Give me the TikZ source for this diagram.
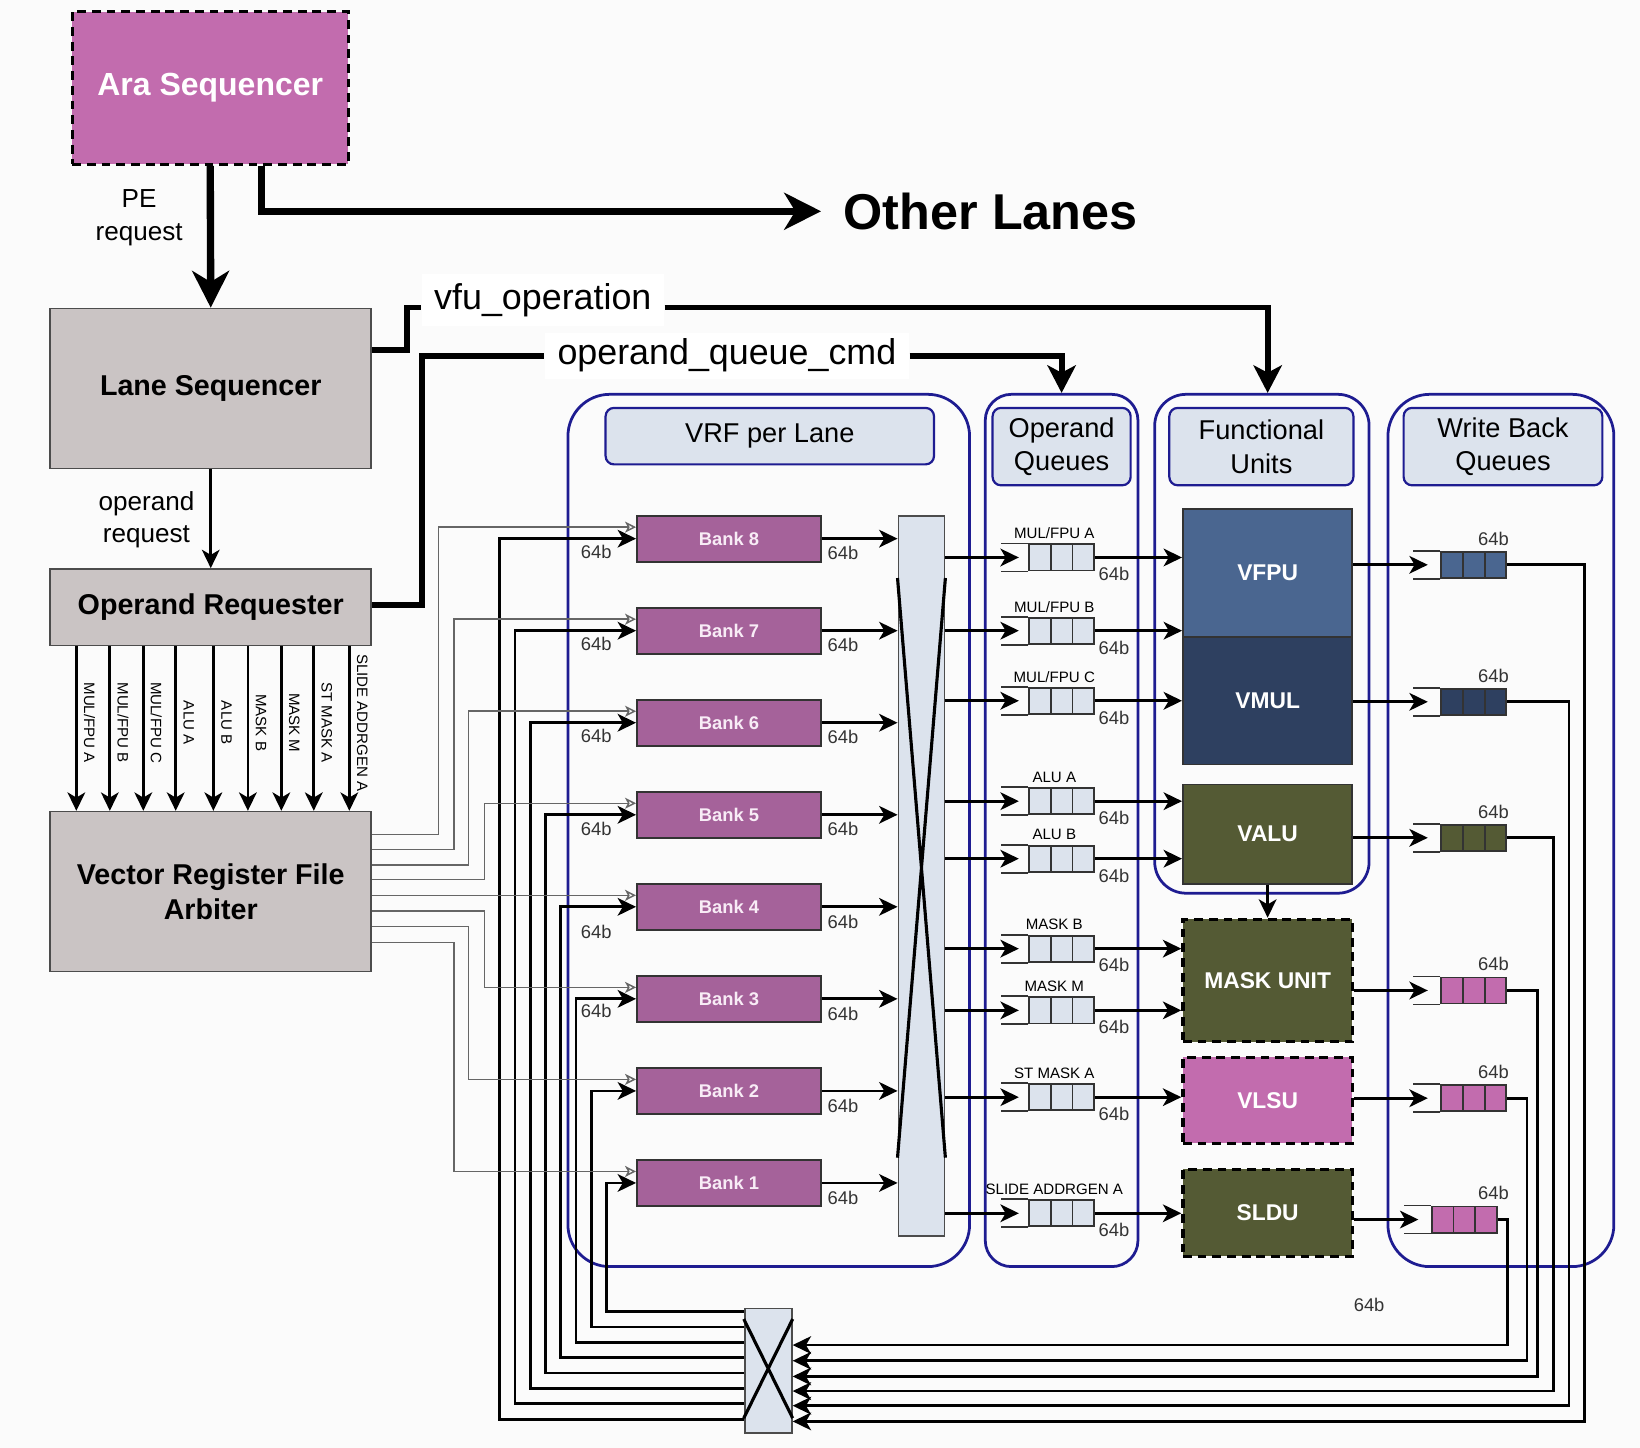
\documentclass[tikz,border=0pt]{standalone}
\usepackage{fontspec}
\setmainfont{Liberation Sans}
\usetikzlibrary{arrows.meta}

\definecolor{arapink}{RGB}{194,108,174}
\definecolor{bankpurple}{RGB}{165,98,154}
\definecolor{bankfg}{RGB}{248,236,246}
\definecolor{boxgrey}{RGB}{202,196,196}
\definecolor{paleblue}{RGB}{220,227,237}
\definecolor{fpublue}{RGB}{74,102,144}
\definecolor{muldark}{RGB}{46,64,96}
\definecolor{aluolive}{RGB}{84,90,52}
\definecolor{framec}{RGB}{30,28,145}
\definecolor{bgc}{RGB}{251,251,251}

\begin{document}
\begin{tikzpicture}
        [x=0.1mm, y=-0.1mm,
         dashbox/.style={draw=black, line width=0.9pt, dash pattern=on 2.4pt off 1.6pt},
         arabox/.style={rectangle, dashbox, fill=arapink, text=white, inner sep=0pt, minimum width=26.4mm, minimum height=14.6mm, font=\fontsize{8.7}{10}\selectfont\bfseries},
         greybox/.style={rectangle, draw=black!70, fill=boxgrey, line width=0.45pt, inner sep=0pt, minimum width=30.7mm, align=center, font=\fontsize{7.8}{9.4}\selectfont\bfseries},
         lbl/.style={align=center, inner sep=0pt, font=\fontsize{7.1}{8.8}\selectfont},
         biglbl/.style={inner sep=0pt, font=\fontsize{13.7}{16}\selectfont\bfseries},
         cmdlbl/.style={fill=white, inner xsep=1.2mm, inner ysep=0pt, minimum height=5mm, font=\fontsize{9.75}{11}\selectfont},
         fatarr/.style={line width=2pt, -{Stealth[length=10pt, width=10pt, inset=3pt]}},
         cmdline/.style={line width=1.6pt},
         cmdarr/.style={cmdline, -{Stealth[length=7.5pt, width=7.7pt, inset=2pt]}},
         arr/.style={line width=0.75pt, -{Stealth[length=5pt, width=4.8pt, inset=1.4pt]}},
         garr/.style={draw=black!60, line width=0.4pt, -{Stealth[open, length=3pt, width=3pt, inset=0.8pt]}},
         lanebox/.style={draw=framec, line width=0.75pt, inner sep=0pt},
         hdr/.style={draw=framec, fill=paleblue, line width=0.6pt, rounded corners=0.8mm, inner sep=0pt, align=center, font=\fontsize{7.4}{9.1}\selectfont},
         bank/.style={draw=black!80, fill=bankpurple, line width=0.5pt, inner sep=0pt, minimum width=17.6mm, minimum height=4.4mm, text=bankfg, font=\fontsize{5}{6}\selectfont\bfseries},
         xbar/.style={draw=black!70, fill=paleblue, line width=0.5pt, inner sep=0pt},
         xcross/.style={line width=0.85pt},
         bits/.style={inner sep=0pt, text=black!80, font=\fontsize{5}{6}\selectfont},
         tinylbl/.style={inner sep=0pt, font=\fontsize{4.1}{5}\selectfont},
         qcell/.style={draw=black!80, fill=paleblue, line width=0.5pt, inner sep=0pt, minimum width=2.07mm, minimum height=2.5mm},
         qline/.style={draw=black!80, line width=0.5pt},
         fu/.style={draw=black!80, line width=0.5pt, inner sep=0pt, minimum width=16.2mm, text=white, font=\fontsize{6.2}{7.5}\selectfont\bfseries}]

        \fill[bgc] (0,0) rectangle (1568,1384);
        \useasboundingbox (0,0) rectangle (1568,1384);

        \node[arabox] (ara) at (201,84) {Ara Sequencer};
        \node[greybox, minimum height=15.3mm] (lane) at (201.5,371.5) {Lane Sequencer};
        \node[greybox, minimum height=7.3mm] (opreq) at (201.5,580.5) {Operand Requester};
        \node[greybox, minimum height=15.3mm] (vrfa) at (201.5,852.5) {Vector Register File\\Arbiter};
        \node[biglbl, anchor=west] (other) at (806,202) {Other Lanes};
        \node[lbl] (pereq) at (133,208) {PE\\request};
        \node[lbl] (opreqlbl) at (140,497) {operand\\request};

        \draw[fatarr] (ara.south) -- (lane.north);
        \draw[fatarr] ([xshift=4.9mm]ara.south) |- ([xshift=-2.1mm]other.west);
        \draw[arr] (lane.south) -- (opreq.north);

        \node[lanebox, rounded corners=4mm, minimum width=38.4mm, minimum height=83.4mm] (vrfbox) at (735,794) {};
        \node[lanebox, rounded corners=2.5mm, minimum width=14.6mm, minimum height=83.4mm] (oqbox) at (1015,794) {};
        \node[lanebox, rounded corners=3mm, minimum width=20.5mm, minimum height=47.7mm] (fubox) at (1206.5,615.5) {};
        \node[lanebox, rounded corners=4mm, minimum width=21.6mm, minimum height=83.4mm] (wbbox) at (1435,794) {};
        \node[hdr, minimum width=31.4mm, minimum height=5.4mm] (vrfhdr) at (736,417) {VRF per Lane};
        \node[hdr, minimum width=13.2mm, minimum height=7.4mm] (oqhdr) at (1015,427) {Operand\\Queues};
        \node[hdr, minimum width=17.6mm, minimum height=7.4mm] (fuhdr) at (1206,427) {Functional\\Units};
        \node[hdr, minimum width=19mm, minimum height=7.4mm] (wbhdr) at (1437,427) {Write Back\\Queues};

        \node[fu, fill=fpublue, minimum height=12.2mm] (vfpu) at (1212,548) {VFPU};
        \node[fu, fill=muldark, minimum height=12.2mm] (vmul) at (1212,670) {VMUL};
        \node[fu, fill=aluolive, minimum height=9.5mm] (valu) at (1212,797.5) {VALU};
        \node[fu, dashbox, fill=aluolive, minimum height=11.7mm] (mask) at (1212,937.5) {MASK UNIT};
        \node[fu, dashbox, fill=arapink, minimum height=8.2mm] (vlsu) at (1212,1052) {VLSU};
        \node[fu, dashbox, fill=aluolive, minimum height=8.3mm] (sldu) at (1212,1159.5) {SLDU};
        \draw[arr] (valu.south) -- (mask.north);

        \node[cmdlbl] (vfu) at (519,287) {vfu\_operation};
        \node[cmdlbl, minimum height=4.4mm] (oqc) at (695,340) {operand\_queue\_cmd};
        \draw[cmdline] ([yshift=3.65mm]lane.east) -- ++(3.3mm,0) |- ([yshift=-0.7mm]vfu.west);
        \draw[cmdarr] ([yshift=-0.7mm]vfu.east) -| (vfpu.north |- fubox.north);
        \draw[cmdline] ([yshift=0.2mm]opreq.east) -- ++(4.8mm,0) |- (oqc.west);
        \draw[cmdarr] (oqc.east) -| (oqbox.north);

        \foreach \x/\lab [count=\k] in {73/{MUL/FPU A}, 105/{MUL/FPU B}, 137/{MUL/FPU C}, 168/ALU A, 204/ALU B, 237/MASK B, 269/MASK M, 300/ST MASK A, 334/SLIDE ADDRGEN A}
        {
          \coordinate (req\k) at (\x,700);
          \draw[arr] (opreq.south -| req\k) -- (vrfa.north -| req\k);
          \node[tinylbl, rotate=-90] (reql\k) at ({\x+12.5},691) {\lab};
        }

        \node[xbar, minimum width=4.4mm, minimum height=68.9mm] (vxbar) at (881,837.5) {};
        \draw[xcross] ([yshift=-6.05mm]vxbar.north west) -- ([yshift=7.6mm]vxbar.south east)
                      ([yshift=-6.05mm]vxbar.north east) -- ([yshift=7.6mm]vxbar.south west);
        \node[xbar, minimum width=4.5mm, minimum height=11.9mm] (bxbar) at (734.5,1310.5) {};
        \draw[xcross] ([yshift=-1.1mm]bxbar.north west) -- ([yshift=1.5mm]bxbar.south east)
                      ([yshift=-1.1mm]bxbar.north east) -- ([yshift=1.5mm]bxbar.south west);

        \foreach \i in {1,...,8}
        {
          \node[bank] (bank\i) at (697,{1131-(\i-1)*88}) {Bank \i};
          \draw[arr] (bank\i.east) -- (vxbar.west |- bank\i.east);
          \node[bits] (bo\i) at (806,{1145-(\i-1)*88}) {64b};
          \coordinate (bin\i) at ({580-(\i-1)*14.6},{1254+(\i-1)*14.7});
          \draw[arr] (bxbar.west |- bin\i) -- (bin\i) |- (bank\i.west);
        }
        \foreach \i/\dy in {8/13, 7/13, 6/13, 5/14, 4/24, 3/12}
          \node[bits] (bi\i) at (570,{1131-(\i-1)*88+\dy}) {64b};

        \foreach \i/\gx/\gy in {8/419/798, 7/434/812, 6/448/827, 5/463/841, 4/463/856, 3/463/871, 2/448/886, 1/434/901}
        {
          \coordinate (gv\i) at (\gx,\gy);
          \draw[garr] (vrfa.east |- gv\i) -- (gv\i) |- ([yshift=1.1mm]bank\i.west);
        }

        \foreach \n/\y/\lab/\fu in {A/533/{MUL/FPU A}/vfpu, B/603/{MUL/FPU B}/vfpu, C/670/{MUL/FPU C}/vmul, D/766/ALU A/valu, E/821/ALU B/valu, F/907/MASK B/mask, G/966/MASK M/mask, H/1049/ST MASK A/vlsu, I/1160/SLIDE ADDRGEN A/sldu}
        {
          \foreach \m in {1,2,3}
            \node[qcell] (oq\n\m) at ({973.65+\m*20.7},\y) {};
          \draw[qline] (oq\n1.north west) -- ++(-2.6mm,0) (oq\n1.south west) -- ++(-2.6mm,0);
          \node[tinylbl] (oql\n) at (1008,{\y-23}) {\lab};
          \node[bits] (oqb\n) at (1065,{\y+16}) {64b};
          \draw[arr] (vxbar.east |- oq\n1.west) -- ([xshift=-0.9mm]oq\n1.west);
          \draw[arr] (oq\n3.east) -- (\fu.west |- oq\n3.east);
        }

        \foreach \n/\y/\col/\fu/\dx/\vx/\ry in {1/540/fpublue/vfpu/0/1515/1359, 2/671/muldark/vmul/0/1500/1344, 3/801/aluolive/valu/0/1485/1330, 4/947/arapink/mask/0/1470/1316, 5/1050/arapink/vlsu/0/1460/1301, 6/1166/arapink/sldu/-9/1441/1286}
        {
          \foreach \m in {1,2,3}
            \node[qcell, fill=\col] (wb\n\m) at ({1367.65+\m*20.7+\dx},\y) {};
          \draw[qline] (wb\n1.north west) -- ++(-2.6mm,0) (wb\n1.south west) -- ++(-2.6mm,0);
          \node[bits] (wbb\n) at (1428,{\y-25}) {64b};
          \draw[arr] (\fu.east |- wb\n1.west) -- ([xshift=-1.2mm]wb\n1.west);
          \coordinate (ret\n) at (\vx,\ry);
          \draw[arr] (wb\n3.east) -| (ret\n) -- (bxbar.east |- ret\n);
        }

        \node[bits] (retbits) at (1309,1248) {64b};
\end{tikzpicture}
\end{document}
